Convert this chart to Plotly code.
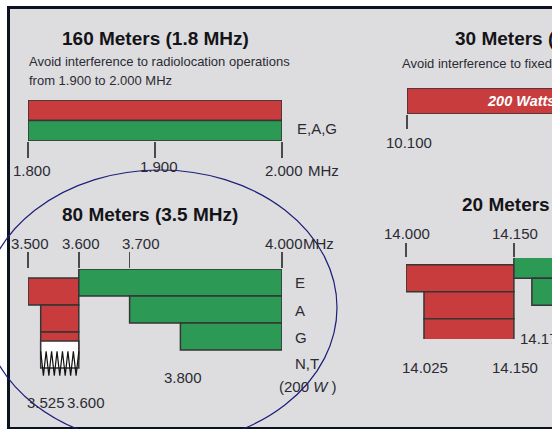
import numpy as np
import plotly.graph_objects as go

# ---------------- data ----------------
# 160 m band (all of E, A, G): CW row on top, phone row below
m160_rows = ["CW", "Phone"]
m160_start = [1.800, 1.800]
m160_end = [2.000, 2.000]
m160_ticks = [1.800, 1.900, 2.000]

# 80 m band, license classes top to bottom
m80_classes = ["E", "A", "G", "N,T"]
m80_cw_start = [3.500, 3.525, 3.525]
m80_cw_end = [3.600, 3.600, 3.600]
m80_ph_start = [3.600, 3.700, 3.800]
m80_ph_end = [4.000, 4.000, 4.000]
m80_nt_start = [3.525]
m80_nt_end = [3.600]
m80_ticks_top = [3.500, 3.600, 3.700, 4.000]
m80_ticks_bottom = [3.525, 3.600]
m80_ticks_mid = [3.800]

# 30 m band
m30_start = [10.100]
m30_end = [10.150]
m30_ticks = [10.100]

# 20 m band, classes E, A, G top to bottom
m20_classes = ["E", "A", "G"]
m20_cw_start = [14.000, 14.025, 14.025]
m20_cw_end = [14.150, 14.150, 14.150]
m20_ph_start = [14.150, 14.175, 14.225]
m20_ph_end = [14.350, 14.350, 14.350]
m20_ticks_top = [14.000, 14.150]
m20_ticks_bottom = [14.025, 14.150]
m20_ticks_mid = [14.175]

# ---------------- style ----------------
W, H = 552, 429
FONT = "Liberation Sans, Arial, sans-serif"
RED = "#c83c3e"
GREEN = "#2c9a54"
EDGE = "#353535"
TICK = "#4a4a4a"
TXT = "#2b2b33"
BG = "#dddde0"
TS = 15       # tick / row label size
TITLE = 19    # panel title size
SUB = 13      # subtitle size


def fx(p):
    return p / W


def fy(p):
    return 1 - p / H


fig = go.Figure()


def bars(starts, ends, rows, color, xa, ya):
    fig.add_trace(go.Bar(
        orientation="h",
        y=[-r for r in rows],
        x=[e - s for s, e in zip(starts, ends)],
        base=starts,
        width=1,
        marker=dict(color=color, line=dict(color=EDGE, width=1.5)),
        xaxis=xa, yaxis=ya, hoverinfo="skip", showlegend=False,
    ))


# 160 m
bars(m160_start[:1], m160_end[:1], [0], RED, "x", "y")
bars(m160_start[1:], m160_end[1:], [1], GREEN, "x", "y")

# 80 m
bars(m80_cw_start, m80_cw_end, list(range(3)), RED, "x2", "y2")
bars(m80_ph_start, m80_ph_end, list(range(3)), GREEN, "x2", "y2")
bars(m80_nt_start, m80_nt_end, [3], "white", "x2", "y2")
# zig-zag fill of the N,T segment
n_zig = 7
zx = np.linspace(m80_nt_start[0], m80_nt_end[0], 2 * n_zig + 1)
zy = [-3 + (0.45 if k % 2 == 0 else -0.45) for k in range(len(zx))]
fig.add_trace(go.Scatter(x=zx, y=zy, mode="lines", line=dict(color="#111", width=1.2),
                         xaxis="x2", yaxis="y2", hoverinfo="skip", showlegend=False))

# 30 m
bars(m30_start, m30_end, [0], RED, "x5", "y5")

# 20 m
bars(m20_cw_start, m20_cw_end, list(range(3)), RED, "x6", "y6")
bars(m20_ph_start, m20_ph_end, list(range(3)), GREEN, "x6", "y6")

tick_common = dict(ticks="outside", tickwidth=1.5, tickcolor=TICK, showticklabels=False,
                   showgrid=False, zeroline=False, showline=False, fixedrange=True)
y_common = dict(showticklabels=False, ticks="", showgrid=False, zeroline=False,
                showline=False, fixedrange=True)

R80 = [3.5, 4.0]
R30 = [10.100, 10.125]
R20 = [14.000, 14.203]

fig.update_layout(
    width=W, height=H,
    margin=dict(l=0, r=0, t=0, b=0),
    paper_bgcolor="white", plot_bgcolor="rgba(0,0,0,0)",
    showlegend=False, bargap=0, hovermode=False,
    font=dict(family=FONT, color=TXT),
    xaxis=dict(domain=[fx(28), fx(282)], range=[1.8, 2.0], anchor="y", side="bottom",
               tickvals=m160_ticks, ticklen=16, **tick_common),
    yaxis=dict(domain=[fy(141), fy(100)], range=[-1.5, 0.5], anchor="x", **y_common),
    xaxis2=dict(domain=[fx(28), fx(282)], range=R80, anchor="y2", side="top",
                tickvals=m80_ticks_top, ticklen=16, **tick_common),
    yaxis2=dict(domain=[fy(377), fy(269)], range=[-3.5, 0.5], anchor="x2", **y_common),
    xaxis3=dict(overlaying="x2", range=R80, anchor="y2", side="bottom",
                tickvals=m80_ticks_bottom, ticklen=13, **tick_common),
    xaxis4=dict(overlaying="x2", range=R80, anchor="free", position=fy(350), side="bottom",
                tickvals=m80_ticks_mid, ticklen=14, **tick_common),
    xaxis5=dict(domain=[fx(407), 1], range=R30, anchor="y5", side="bottom",
                tickvals=m30_ticks, ticklen=14, **tick_common),
    yaxis5=dict(domain=[fy(114), fy(88)], range=[-0.5, 0.5], anchor="x5", **y_common),
    xaxis6=dict(domain=[fx(406), 1], range=R20, anchor="y6", side="top",
                tickvals=m20_ticks_top, ticklen=14, **tick_common),
    yaxis6=dict(domain=[fy(339), fy(258)], range=[-2.5, 0.5], anchor="x6", **y_common),
    xaxis7=dict(overlaying="x6", range=R20, anchor="y6", side="bottom",
                tickvals=m20_ticks_bottom, ticklen=14, **tick_common),
    xaxis8=dict(overlaying="x6", range=R20, anchor="free", position=fy(312), side="bottom",
                tickvals=m20_ticks_mid, ticklen=15, **tick_common),
)

# frame and ellipse
fig.add_shape(type="rect", xref="paper", yref="paper", x0=fx(8.5), x1=fx(620),
              y0=fy(428.5), y1=fy(7.5), fillcolor=BG, line=dict(color="#0d1220", width=3),
              layer="below")
fig.add_shape(type="circle", xref="paper", yref="paper", x0=fx(-17), x1=fx(337),
              y0=fy(445), y1=fy(170), line=dict(color="#1d1d7a", width=1.2), layer="above")


def text(t, x, y, xref="paper", xanchor="center", size=TS, bold=False, italic=False,
         color=TXT, xshift=0):
    if bold:
        t = f"<b>{t}</b>"
    if italic:
        t = f"<i>{t}</i>"
    fig.add_annotation(text=t, x=x, y=fy(y), xref=xref, yref="paper", xanchor=xanchor,
                       yanchor="middle", showarrow=False, xshift=xshift,
                       font=dict(family=FONT, size=size, color=color))


def f3(v):
    return f"{v:.3f}"


# 160 m texts
text("160 Meters (1.8 MHz)", fx(155), 38, size=TITLE, bold=True, color="#141418")
text("Avoid interference to radiolocation operations", fx(27), 62, xanchor="left", size=SUB)
text("from 1.900 to 2.000 MHz", fx(27), 81, xanchor="left", size=SUB)
text(",".join(m80_classes[:3]), fx(295), 129, xanchor="left")
for v, sh, yy in zip(m160_ticks, [4, 4, 2], [170, 166, 170]):
    text(f3(v), v, yy, xref="x", xshift=sh)
text("MHz", fx(306), 170, xanchor="left")

# 80 m texts
text("80 Meters (3.5 MHz)", fx(150), 214, size=TITLE, bold=True, color="#141418")
for v, sh in zip(m80_ticks_top, [2, 2, 11, 2]):
    text(f3(v), v, 243, xref="x2", xshift=sh)
text("MHz", fx(301), 243, xanchor="left")
for c, yy in zip(m80_classes, [282, 310, 337, 363]):
    text(c, fx(293), yy, xanchor="left")
text("(200 <i>W</i> )", fx(277), 386, xanchor="left")
for v, sh in zip(m80_ticks_mid, [3]):
    text(f3(v), v, 377, xref="x2", xshift=sh)
for v, sh in zip(m80_ticks_bottom, [5, 7]):
    text(f3(v), v, 402, xref="x2", xshift=sh)

# 30 m texts
text("30 Meters (10.1 MHz)", fx(453), 38, xanchor="left", size=TITLE, bold=True, color="#141418")
text("Avoid interference to fixed services outside the US", fx(400), 63, xanchor="left", size=SUB)
text(f3(m30_ticks[0]), m30_ticks[0], 142, xref="x5", xshift=2)
text("200 Watts PEP", fx(485), 101, xanchor="left", size=14.5, bold=True, italic=True,
     color="white")

# 20 m texts
text("20 Meters (14 MHz)", fx(460), 205, xanchor="left", size=TITLE, bold=True, color="#141418")
for v in m20_ticks_top:
    text(f3(v), v, 233, xref="x6", xshift=1)
for v in m20_ticks_bottom:
    text(f3(v), v, 367, xref="x6", xshift=1)
text(f3(m20_ticks_mid[0]), fx(518), 338, xanchor="left")

fig.write_html("out.html",
               config={"displayModeBar": False, "staticPlot": True},
               post_script="document.body.style.margin='0px';"
                           "document.body.style.overflow='hidden';")
